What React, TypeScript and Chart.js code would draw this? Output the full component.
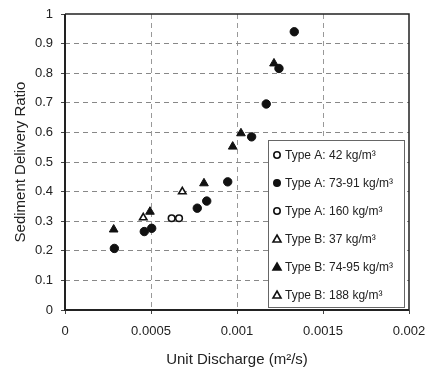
import React, { useEffect, useRef } from "react";
import { Chart, registerables } from "chart.js";

Chart.register(...registerables);

const xTickValues = [0, 0.0005, 0.001, 0.0015, 0.002];
const xTickLabels = ["0", "0.0005", "0.001", "0.0015", "0.002"];
const yTickValues = [0, 0.1, 0.2, 0.3, 0.4, 0.5, 0.6, 0.7, 0.8, 0.9, 1];
const yTickLabels = ["0", "0.1", "0.2", "0.3", "0.4", "0.5", "0.6", "0.7", "0.8", "0.9", "1"];

const seriesLabels = [
  "Type A: 42 kg/m³",
  "Type A: 73-91 kg/m³",
  "Type A: 160 kg/m³",
  "Type B: 37 kg/m³",
  "Type B: 74-95 kg/m³",
  "Type B: 188 kg/m³",
];

const typeA42 = [{ x: 0.00062, y: 0.31 }];
const typeA7391 = [
  { x: 0.000287, y: 0.208 },
  { x: 0.000461, y: 0.265 },
  { x: 0.000504, y: 0.276 },
  { x: 0.000769, y: 0.344 },
  { x: 0.000824, y: 0.368 },
  { x: 0.000946, y: 0.433 },
  { x: 0.001085, y: 0.585 },
  { x: 0.00117, y: 0.696 },
  { x: 0.001244, y: 0.816 },
  { x: 0.001333, y: 0.94 },
];
const typeA160 = [{ x: 0.000663, y: 0.31 }];
const typeB37 = [{ x: 0.000455, y: 0.312 }];
const typeB7495 = [
  { x: 0.000283, y: 0.272 },
  { x: 0.000494, y: 0.332 },
  { x: 0.000808, y: 0.428 },
  { x: 0.000975, y: 0.552 },
  { x: 0.001023, y: 0.597 },
  { x: 0.001215, y: 0.833 },
];
const typeB188 = [{ x: 0.000682, y: 0.4 }];

const seriesData = [typeA42, typeA7391, typeA160, typeB37, typeB7495, typeB188];
const seriesShapes = ["circle", "circle", "circle", "triangle", "triangle", "triangle"];
const seriesFilled = [false, true, false, false, true, false];

const INK = "#111";
const FONT = "'Liberation Sans', Arial, sans-serif";

const legendPlugin = {
  id: "boxLegend",
  afterDatasetsDraw(chart: any) {
    const ctx = chart.ctx;
    const left = 268, top = 140, w = 136, h = 167;
    ctx.save();
    ctx.fillStyle = "#fff";
    ctx.fillRect(left, top, w, h);
    ctx.strokeStyle = "#666";
    ctx.lineWidth = 1;
    ctx.strokeRect(left + 0.5, top + 0.5, w, h);
    ctx.font = "12px " + FONT;
    ctx.textBaseline = "middle";
    chart.data.datasets.forEach((ds: any, i: number) => {
      const cy = 155 + i * 28;
      const cx = 277;
      ctx.lineWidth = 1.6;
      ctx.strokeStyle = INK;
      ctx.fillStyle = ds.pointBackgroundColor;
      ctx.beginPath();
      if (ds.pointStyle === "circle") {
        ctx.arc(cx, cy, 3.2, 0, Math.PI * 2);
      } else {
        ctx.moveTo(cx, cy - 4);
        ctx.lineTo(cx + 4, cy + 3);
        ctx.lineTo(cx - 4, cy + 3);
        ctx.closePath();
      }
      ctx.fill();
      ctx.stroke();
      ctx.fillStyle = "#222";
      ctx.fillText(ds.label, 285, cy + 1);
    });
    ctx.restore();
  },
};

const framePlugin = {
  id: "frame",
  afterDraw(chart: any) {
    const { left, right, top, bottom } = chart.chartArea;
    const ctx = chart.ctx;
    ctx.save();
    ctx.strokeStyle = "#222";
    ctx.lineWidth = 1.5;
    ctx.beginPath();
    ctx.moveTo(left, top);
    ctx.lineTo(right, top);
    ctx.lineTo(right, bottom);
    ctx.stroke();
    ctx.lineWidth = 2;
    ctx.beginPath();
    ctx.moveTo(left, top);
    ctx.lineTo(left, bottom);
    ctx.lineTo(right, bottom);
    ctx.stroke();
    ctx.restore();
  },
};

export default function App() {
  const ref = useRef<HTMLCanvasElement>(null);
  useEffect(() => {
    document.body.style.margin = "0";
    const chart = new Chart(ref.current as HTMLCanvasElement, {
      type: "scatter",
      data: {
        datasets: seriesData.map((d, i) => ({
          label: seriesLabels[i],
          data: d,
          pointStyle: seriesShapes[i],
          pointRadius: seriesShapes[i] === "circle" ? (seriesFilled[i] ? 4.2 : 3.3) : seriesFilled[i] ? 5 : 4.3,
          pointBackgroundColor: seriesFilled[i] ? INK : "#fff",
          pointBorderColor: INK,
          pointBorderWidth: seriesFilled[i] ? 1 : 1.6,
          showLine: false,
        })),
      },
      options: {
        animation: false,
        responsive: false,
        layout: { padding: { left: 12, right: 18, top: 14, bottom: 0 } },
        plugins: {
          legend: { display: false },
          tooltip: { enabled: false },
        },
        scales: {
          x: {
            type: "linear",
            min: 0,
            max: 0.002,
            afterBuildTicks: (s: any) => {
              s.ticks = xTickValues.map((v) => ({ value: v }));
            },
            afterFit: (s: any) => {
              s.height = 59;
              s.paddingLeft = 0;
              s.paddingRight = 0;
            },
            ticks: {
              callback: (v: any, i: number) => xTickLabels[i],
              color: "#222",
              font: { family: FONT, size: 13 },
              padding: 10,
              maxRotation: 0,
            },
            grid: {
              color: (c: any) =>
                c.tick && (c.tick.value === 0 || c.tick.value === 0.002) ? "rgba(0,0,0,0)" : "#999",
              tickBorderDash: [],
              tickColor: "#444",
              tickLength: 4,
              lineWidth: 1,
            },
            border: { display: false, dash: [5, 4] },
            title: {
              display: true,
              text: "Unit Discharge (m²/s)",
              color: "#222",
              font: { family: FONT, size: 15 },
              padding: { top: 7, bottom: 0 },
            },
          },
          y: {
            type: "linear",
            min: 0,
            max: 1,
            afterBuildTicks: (s: any) => {
              s.ticks = yTickValues.map((v) => ({ value: v }));
            },
            afterFit: (s: any) => {
              s.width = 53;
              s.paddingTop = 0;
              s.paddingBottom = 0;
            },
            ticks: {
              callback: (v: any, i: number) => yTickLabels[i],
              color: "#222",
              font: { family: FONT, size: 13 },
              padding: 8,
            },
            grid: {
              color: (c: any) =>
                c.tick && (c.tick.value === 0 || c.tick.value === 1) ? "rgba(0,0,0,0)" : "#888",
              tickBorderDash: [],
              tickColor: "#444",
              tickLength: 4,
              lineWidth: 1,
            },
            border: { display: false, dash: [5, 4] },
            title: {
              display: true,
              text: "Sediment Delivery Ratio",
              color: "#222",
              font: { family: FONT, size: 15 },
              padding: { top: 0, bottom: 4 },
            },
          },
        },
      },
      plugins: [framePlugin, legendPlugin],
    } as any);
    return () => chart.destroy();
  }, []);
  return (
    <div style={{ position: "absolute", left: 0, top: 0, width: 427, height: 369, background: "#fff" }}>
      <canvas ref={ref} width={427} height={369} />
    </div>
  );
}
